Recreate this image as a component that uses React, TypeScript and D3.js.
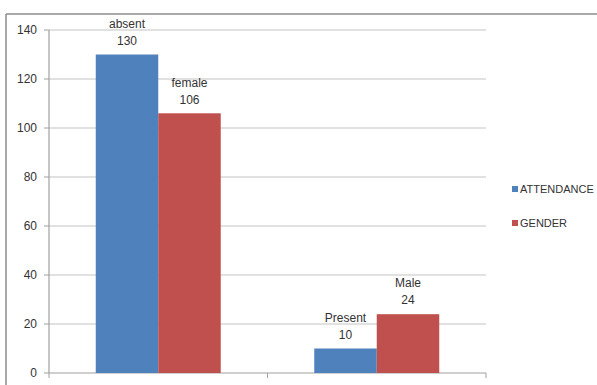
import React from "react";
import * as d3 from "d3";

const categories = ["A", "B"];
const seriesNames = ["ATTENDANCE", "GENDER"];
const attendanceValues = [130, 10];
const genderValues = [106, 24];
const attendanceLabels = ["absent", "Present"];
const genderLabels = ["female", "Male"];
const yTicks = [0, 20, 40, 60, 80, 100, 120, 140];

const colors = ["#4F81BD", "#C0504D"];

export default function App() {
  const W = 597, H = 385;
  const left = 49, right = 486, top = 30, bottom = 373;
  const x = d3.scaleBand().domain(categories).range([left, right]).paddingInner(0).paddingOuter(0);
  const y = d3.scaleLinear().domain([0, 140]).range([bottom, top]);
  const groupW = x.bandwidth() * 0.572;
  const x1 = d3.scaleBand().domain(seriesNames).range([0, groupW]);
  const series = [
    { name: seriesNames[0], values: attendanceValues, labels: attendanceLabels },
    { name: seriesNames[1], values: genderValues, labels: genderLabels },
  ];
  const font = "'Liberation Sans', Arial, sans-serif";
  const boundaries = [left, ...categories.map((c) => (x(c) as number) + x.bandwidth())];
  return (
    <svg width={W} height={H} style={{ position: "absolute", left: 0, top: 0, background: "#fff" }}>
      <rect x={0} y={0} width={W} height={H} fill="#fff" />
      <line x1={6} x2={W} y1={14} y2={14} stroke="#8c8c8c" strokeWidth={1.5} />
      <line x1={6} x2={6} y1={14} y2={H} stroke="#8c8c8c" strokeWidth={1.5} />
      {yTicks.map((t) => (
        <g key={t}>
          {t > 0 && <line x1={left} x2={right} y1={y(t)} y2={y(t)} stroke="#c4c4c4" strokeWidth={1.2} />}
          <line x1={left - 5} x2={left} y1={y(t)} y2={y(t)} stroke="#a0a0a0" />
          <text x={37} y={y(t)} dy="0.35em" textAnchor="end" fontFamily={font} fontSize={12} fill="#333">{t}</text>
        </g>
      ))}
      <line x1={left} x2={left} y1={top} y2={bottom} stroke="#a0a0a0" strokeWidth={1.2} />
      <line x1={left} x2={right} y1={bottom} y2={bottom} stroke="#a0a0a0" strokeWidth={1.2} />
      {boundaries.map((b, i) => (
        <line key={i} x1={b} x2={b} y1={bottom} y2={bottom + 5} stroke="#a0a0a0" />
      ))}
      {series.map((s, si) =>
        categories.map((c, ci) => {
          const bx = (x(c) as number) + (x.bandwidth() - groupW) / 2 + (x1(s.name) as number);
          const by = y(s.values[ci]);
          const cx = bx + x1.bandwidth() / 2;
          return (
            <g key={s.name + c}>
              <rect x={bx} y={by} width={x1.bandwidth()} height={bottom - by} fill={colors[si]} />
              <text x={cx} y={by - 31} dy="0.35em" textAnchor="middle" fontFamily={font} fontSize={12} fill="#333">{s.labels[ci]}</text>
              <text x={cx} y={by - 14} dy="0.35em" textAnchor="middle" fontFamily={font} fontSize={12} fill="#333">{s.values[ci]}</text>
            </g>
          );
        })
      )}
      {seriesNames.map((n, i) => (
        <g key={n} transform={`translate(512, ${189 + i * 34})`}>
          <rect x={0} y={-3} width={6} height={6} fill={colors[i]} />
          <text x={8} y={0} dy="0.35em" fontFamily={font} fontSize={11} fill="#333">{n}</text>
        </g>
      ))}
    </svg>
  );
}
